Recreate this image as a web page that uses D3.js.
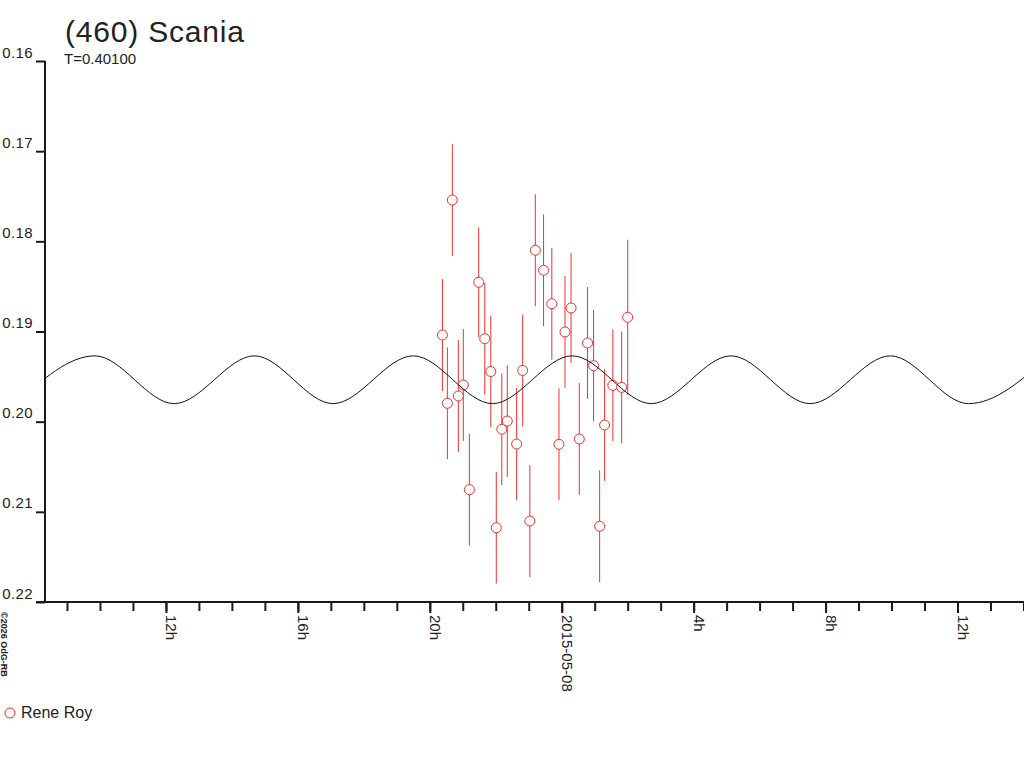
<!DOCTYPE html>
<html>
<head>
<meta charset="utf-8">
<title>(460) Scania</title>
<script src="https://cdn.jsdelivr.net/npm/d3@7"></script>
<style>
  body { margin: 0; background: #fff; }
  text { font-family: "Liberation Sans", Arial, sans-serif; fill: #222; }
</style>
</head>
<body>
<div id="chart"></div>
<script>
// observations (Rene Roy)
const obsTimes = [
  "2015-05-07T20:23", "2015-05-07T20:32", "2015-05-07T20:41", "2015-05-07T20:52",
  "2015-05-07T21:01", "2015-05-07T21:12", "2015-05-07T21:29", "2015-05-07T21:40",
  "2015-05-07T21:51", "2015-05-07T22:01", "2015-05-07T22:11", "2015-05-07T22:21",
  "2015-05-07T22:38", "2015-05-07T22:49", "2015-05-07T23:02", "2015-05-07T23:12",
  "2015-05-07T23:27", "2015-05-07T23:42", "2015-05-07T23:55", "2015-05-08T00:06",
  "2015-05-08T00:17", "2015-05-08T00:32", "2015-05-08T00:47", "2015-05-08T00:58",
  "2015-05-08T01:09", "2015-05-08T01:18", "2015-05-08T01:33", "2015-05-08T01:49",
  "2015-05-08T02:00"
];
const obsValues = [
  0.19039, 0.19796, 0.17542, 0.19715, 0.19593, 0.20754, 0.18454, 0.19080,
  0.19444, 0.21176, 0.20084, 0.19993, 0.20248, 0.19432, 0.21102, 0.18099,
  0.18321, 0.18692, 0.20251, 0.19005, 0.18739, 0.20192, 0.19127, 0.19379,
  0.21160, 0.20037, 0.19597, 0.19619, 0.18842
];
const obsErrors = [
  0.0062, 0.0062, 0.0062, 0.0062, 0.0062, 0.0062, 0.0061, 0.0062,
  0.0062, 0.0062, 0.0062, 0.0062, 0.0062, 0.0062, 0.0062, 0.0062,
  0.0062, 0.0062, 0.0062, 0.0062, 0.0061, 0.0062, 0.0062, 0.0062,
  0.0062, 0.0062, 0.0062, 0.0062, 0.0086
];

const fitTimes = [
  "2015-05-07T07:27", "2015-05-07T09:51", "2015-05-07T12:15", "2015-05-07T14:41",
  "2015-05-07T17:04", "2015-05-07T19:30", "2015-05-07T21:54", "2015-05-08T00:19",
  "2015-05-08T02:43", "2015-05-08T05:08", "2015-05-08T07:32", "2015-05-08T09:58",
  "2015-05-08T12:20", "2015-05-08T14:47"
];
const fitValues = [
  0.1980, 0.1927, 0.1980, 0.1927, 0.1980, 0.1927, 0.1980, 0.1927,
  0.1980, 0.1927, 0.1980, 0.1927, 0.1980, 0.1927
];

// axes
const xDomain = ["2015-05-07T08:20", "2015-05-08T14:01"];
const xMajorTimes = [
  "2015-05-07T12:00", "2015-05-07T16:00", "2015-05-07T20:00", "2015-05-08T00:00",
  "2015-05-08T04:00", "2015-05-08T08:00", "2015-05-08T12:00"
];
const xMajorLabels = ["12h", "16h", "20h", "2015-05-08", "4h", "8h", "12h"];
const yTicks = [0.16, 0.17, 0.18, 0.19, 0.20, 0.21, 0.22];
const yTickLabels = ["0.16", "0.17", "0.18", "0.19", "0.20", "0.21", "0.22"];

const title = "(460) Scania";
const subtitle = "T=0.40100";
const seriesName = "Rene Roy";
const credit = "\u00a92026 OdG-RB";

// dimensions
const WIDTH = 1024;
const HEIGHT = 768;
const PLOT_LEFT = 45;
const PLOT_RIGHT = 1024;
const PLOT_TOP = 61;
const PLOT_BOTTOM = 602;
const RED = "#f03030";
const AXIS = "#1a1a1a";

const parse = d3.utcParse("%Y-%m-%dT%H:%M");

const points = obsTimes.map((t, i) => ({
  t: parse(t), v: obsValues[i], e: obsErrors[i]
}));
const fit = fitTimes.map((t, i) => ({ t: parse(t), v: fitValues[i] }));

const scaleX = d3.scaleUtc()
  .domain(xDomain.map(parse))
  .range([PLOT_LEFT, PLOT_RIGHT]);

const scaleY = d3.scaleLinear()
  .domain([0.16, 0.22])
  .range([PLOT_TOP, PLOT_BOTTOM]);

const $svg = d3.select("#chart").append("svg")
  .attr("width", WIDTH)
  .attr("height", HEIGHT);

$svg.append("defs").append("clipPath")
  .attr("id", "plot-clip")
  .append("rect")
  .attr("x", PLOT_LEFT)
  .attr("y", PLOT_TOP)
  .attr("width", PLOT_RIGHT - PLOT_LEFT)
  .attr("height", PLOT_BOTTOM - PLOT_TOP);

// titles
$svg.append("text")
  .attr("x", 65)
  .attr("y", 42)
  .style("font-size", "30px")
  .style("letter-spacing", "0.8px")
  .text(title);

$svg.append("text")
  .attr("x", 64)
  .attr("y", 64)
  .style("font-size", "15px")
  .text(subtitle);

// y axis
const $axisY = $svg.append("g")
  .attr("transform", `translate(${PLOT_LEFT},0)`)
  .call(d3.axisLeft(scaleY)
    .tickValues(yTicks)
    .tickFormat((d, i) => yTickLabels[i])
    .tickSize(9)
    .tickSizeOuter(0)
    .tickPadding(3));

$axisY.selectAll("text")
  .attr("dy", -4)
  .style("font-size", "15px")
  .style("letter-spacing", "0.4px")
  .style("font-family", null);

// x axis: hourly ticks, labelled every 4h
$svg.append("line")
  .attr("x1", PLOT_LEFT - 9)
  .attr("x2", WIDTH)
  .attr("y1", PLOT_BOTTOM)
  .attr("y2", PLOT_BOTTOM)
  .attr("stroke", AXIS)
  .attr("stroke-width", 2);

const $axisXMinor = $svg.append("g")
  .attr("transform", `translate(0,${PLOT_BOTTOM})`)
  .call(d3.axisBottom(scaleX)
    .ticks(d3.utcHour.every(1))
    .tickFormat("")
    .tickSize(9)
    .tickSizeOuter(0));

const $axisXMajor = $svg.append("g")
  .attr("transform", `translate(0,${PLOT_BOTTOM})`)
  .call(d3.axisBottom(scaleX)
    .tickValues(xMajorTimes.map(parse))
    .tickFormat((d, i) => xMajorLabels[i])
    .tickSize(11)
    .tickSizeOuter(0));

$axisXMajor.selectAll("text")
  .attr("transform", "rotate(90)")
  .attr("x", 13)
  .attr("y", 0)
  .attr("dy", 0)
  .attr("text-anchor", "start")
  .style("font-size", "15px")
  .style("font-family", null);

$svg.selectAll(".domain").remove();
[$axisY, $axisXMinor, $axisXMajor].forEach(($a) => {
  $a.selectAll("line").attr("stroke", AXIS).attr("stroke-width", 2);
});
$axisY.append("line")
  .attr("y1", PLOT_TOP)
  .attr("y2", PLOT_BOTTOM)
  .attr("stroke", AXIS)
  .attr("stroke-width", 2);

// data
const $vis = $svg.append("g").attr("clip-path", "url(#plot-clip)");

$vis.append("g")
  .selectAll("line")
  .data(points)
  .join("line")
  .attr("x1", (d) => scaleX(d.t))
  .attr("x2", (d) => scaleX(d.t))
  .attr("y1", (d) => scaleY(d.v - d.e))
  .attr("y2", (d) => scaleY(d.v + d.e))
  .attr("stroke", RED)
  .attr("stroke-width", 1);

$vis.append("g")
  .selectAll("circle")
  .data(points)
  .join("circle")
  .attr("cx", (d) => scaleX(d.t))
  .attr("cy", (d) => scaleY(d.v))
  .attr("r", 5)
  .attr("fill", "#fff")
  .attr("stroke", RED)
  .attr("stroke-width", 1);

const line = d3.line()
  .x((d) => scaleX(d.t))
  .y((d) => scaleY(d.v))
  .curve(d3.curveMonotoneX);

$vis.append("path")
  .datum(fit)
  .attr("d", line)
  .attr("fill", "none")
  .attr("stroke", "#111")
  .attr("stroke-width", 1);

// legend
$svg.append("circle")
  .attr("cx", 10)
  .attr("cy", 713)
  .attr("r", 5)
  .attr("fill", "none")
  .attr("stroke", RED);

$svg.append("text")
  .attr("x", 21)
  .attr("y", 718)
  .style("font-size", "16px")
  .text(seriesName);

// credit
$svg.append("text")
  .attr("transform", "translate(1,612) rotate(90)")
  .style("font-size", "9px")
  .style("font-weight", "bold")
  .text(credit);
</script>
</body>
</html>
